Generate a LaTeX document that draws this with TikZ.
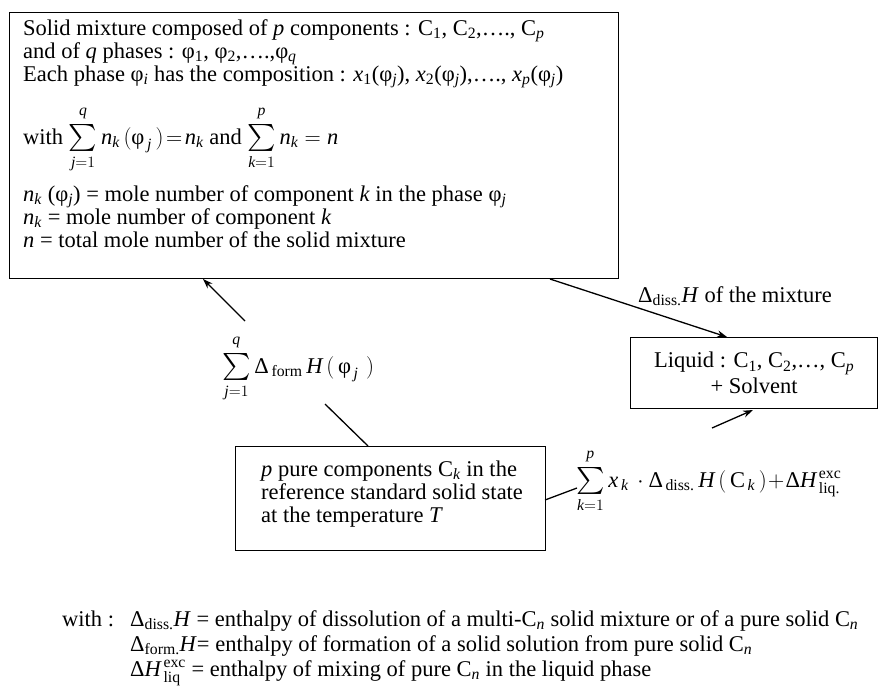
\RequirePackage{fix-cm}
\documentclass[tikz,border=0pt]{standalone}
\usepackage{amsmath}
\usepackage{graphicx}
\usepackage{fontspec}
\setmainfont{Liberation Serif}
\usetikzlibrary{arrows.meta,calc}
\newcommand\vv[1]{\mathit{#1}}
\newcommand\phitx{\text{φ}}
\newcommand\upstrut{\rule[-7pt]{0pt}{0pt}}
\newcommand\dnstrut{\rule{0pt}{12pt}}
\newcommand\bigsum{\mathop{\vcenter{\hbox{\scalebox{1.3}{$\textstyle\sum$}}}}\limits}
\begin{document}
\begin{tikzpicture}[x=1pt,y=-1pt,
  font=\fontsize{22.5}{26}\selectfont,
  box/.style={draw, line width=1.4pt, inner sep=0pt},
  txt/.style={anchor=base west, inner sep=0pt},
  foot/.style={anchor=base west, inner sep=0pt},
  arr/.style={line width=1.3pt, -{Stealth[length=10pt,width=7pt]}},
  conn/.style={line width=1.3pt}]
\useasboundingbox (0,0) rectangle (879,686);

% top box
\node[box, anchor=north west, minimum width=609pt, minimum height=266pt] (solid) at (9,12) {};
\node[txt] (l1) at (23,35) {Solid mixture composed of \textit{p} components : C\textsubscript{1}, C\textsubscript{2},…., C\textsubscript{\textit{p}}};
\node[txt] (l2) at (23,58) {and of \textit{q} phases : φ\textsubscript{1}, φ\textsubscript{2},….,φ\textsubscript{\textit{q}}};
\node[txt] (l3) at (23,81) {Each phase φ\textsubscript{\textit{i}} has the composition : \textit{x}\textsubscript{1}(φ\textsubscript{\textit{j}}), \textit{x}\textsubscript{2}(φ\textsubscript{\textit{j}}),…., \textit{x}\textsubscript{\textit{p}}(φ\textsubscript{\textit{j}})};
\node[txt] (l4) at (23,144) {with \(\bigsum_{\dnstrut\vv{j}=1}^{\vv{q}\upstrut}\vv{n}_{\vv{k}}\,(\phitx_{\,\vv{j}}\,)\!=\!\vv{n}_{\vv{k}}\) and \(\bigsum_{\dnstrut\vv{k}=1}^{\vv{p}\upstrut}\vv{n}_{\vv{k}}=\vv{n}\)};
\node[txt] (l5) at (23,201) {\textit{n}\textsubscript{\textit{k}} (φ\textsubscript{\textit{j}}) = mole number of component \textit{k} in the phase φ\textsubscript{\textit{j}}};
\node[txt] (l6) at (23,224) {\textit{n}\textsubscript{\textit{k}} = mole number of component \textit{k}};
\node[txt] (l7) at (23,247) {\textit{n} = total mole number of the solid mixture};

% liquid box
\node[box, anchor=north west, minimum width=247pt, minimum height=71pt, align=center] (liq) at (630,337)
  {Liquid : C\textsubscript{1}, C\textsubscript{2},…, C\textsubscript{\textit{p}}\\+ Solvent};

% pure components box
\node[box, anchor=north west, minimum width=310pt, minimum height=104pt] (pure) at (235,446) {};
\node[txt] (p1) at (261,476) {\textit{p} pure components C\textsubscript{\textit{k}} in the};
\node[txt] (p2) at (261,499) {reference standard solid state};
\node[txt] (p3) at (261,522) {at the temperature \textit{T}};

% labels
\node[txt] (sform) at (222,373) {\(\bigsum_{\dnstrut\vv{j}=1}^{\vv{q}\upstrut}\text{Δ}_{\,\text{form}}\,\vv{H}\,(\,\phitx_{\,\vv{j}}\,\,)\)};
\node[txt] (sdiss) at (576,487) {\(\bigsum_{\dnstrut\vv{k}=1}^{\vv{p}\upstrut}\vv{x}_{\,\vv{k}}\,\cdot\text{Δ}_{\,\text{diss}\text{.}}\,\vv{H}\,(\,\text{C}_{\,\vv{k}}\,)\!+\!\text{Δ}\vv{H}^{\,\text{exc}}_{\,\text{liq.}}\)};
\node[txt] (ldiss) at (638,302) {Δ\textsubscript{diss.}\textit{H} of the mixture};

% connectors
\coordinate (a1s) at (245,321);
\coordinate (a1e) at (203,279);
\draw[arr] (a1s) -- (a1e);
\coordinate (a2s) at (550,279);
\coordinate (a2e) at (727,337);
\draw[arr] (a2s) -- (a2e);
\coordinate (c1s) at (325,404);
\coordinate (c1e) at (368,446);
\draw[conn] (c1s) -- (c1e);
\coordinate (c2s) at (545,500);
\coordinate (c2e) at (577,488);
\draw[conn] (c2s) -- (c2e);
\coordinate (a3s) at (712,428);
\coordinate (a3e) at (753,410);
\draw[arr] (a3s) -- (a3e);

% footer
\node[foot] (fw) at (62,626) {with :};
\node[foot] (f1) at (130,626) {Δ\textsubscript{diss.}\textit{H} = enthalpy of dissolution of a multi-C\textsubscript{\textit{n}} solid mixture or of a pure solid C\textsubscript{\textit{n}}};
\node[foot] (f2) at (130,651) {Δ\textsubscript{form.}\textit{H}= enthalpy of formation of a solid solution from pure solid C\textsubscript{\textit{n}}};
\node[foot] (f3) at (130,676) {\(\text{Δ}\vv{H}^{\,\text{exc}}_{\,\text{liq}}\) = enthalpy of mixing of pure C\textsubscript{\textit{n}} in the liquid phase};
\end{tikzpicture}
\end{document}
